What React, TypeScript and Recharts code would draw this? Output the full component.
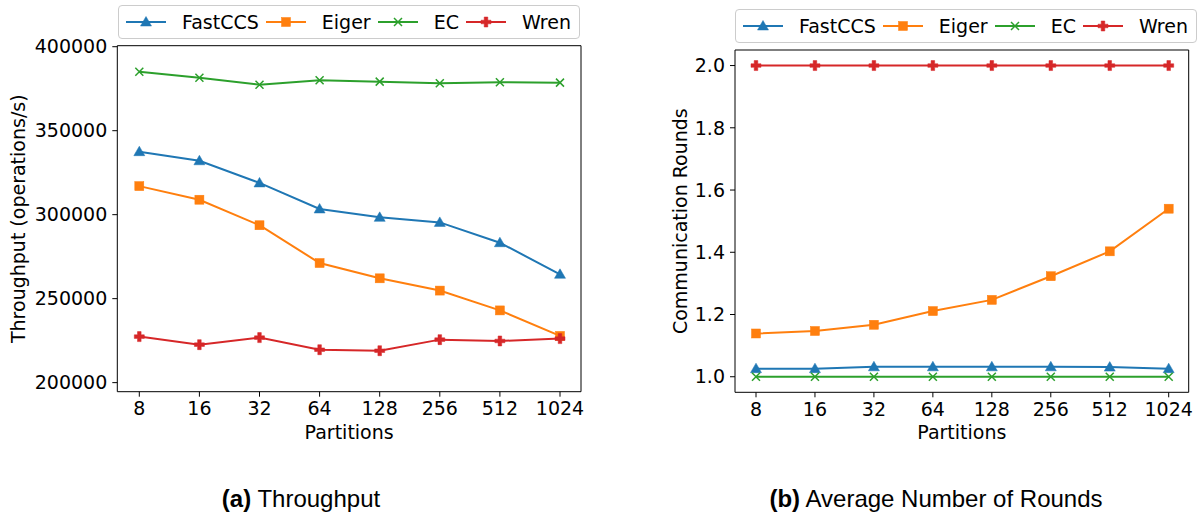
import { LineChart, Line, XAxis, YAxis, Label } from 'recharts';

const partitions = ['8', '16', '32', '64', '128', '256', '512', '1024'];

// throughput (operations/s)
const fastccsTput = [337500, 332100, 318900, 303400, 298400, 295400, 283300, 264500];
const eigerTput = [317000, 308900, 293700, 271200, 262100, 254800, 243000, 227800];
const ecTput = [385100, 381500, 377400, 380000, 379200, 378200, 378800, 378600];
const wrenTput = [227400, 222600, 226800, 219600, 219000, 225600, 224800, 226200];

// average communication rounds
const fastccsRounds = [1.026, 1.026, 1.032, 1.032, 1.032, 1.032, 1.031, 1.026];
const eigerRounds = [1.139, 1.147, 1.167, 1.211, 1.247, 1.323, 1.403, 1.54];
const ecRounds = [1, 1, 1, 1, 1, 1, 1, 1];
const wrenRounds = [2, 2, 2, 2, 2, 2, 2, 2];

const tputTicks = [200000, 250000, 300000, 350000, 400000];
const roundTicks = [1.0, 1.2, 1.4, 1.6, 1.8, 2.0];

const SERIES = [
  { key: 'fastccs', name: 'FastCCS', color: '#1f77b4', marker: 'tri' },
  { key: 'eiger', name: 'Eiger', color: '#ff7f0e', marker: 'sq' },
  { key: 'ec', name: 'EC', color: '#2ca02c', marker: 'x' },
  { key: 'wren', name: 'Wren', color: '#d62728', marker: 'plus' },
];

const FONT = '"DejaVu Sans", sans-serif';
const FS = 19;

function Marker({ type, color, cx, cy }: { type: string; color: string; cx: number; cy: number }) {
  if (type === 'tri') {
    return <path d={`M${cx},${cy - 5.5} L${cx + 5.5},${cy + 4} L${cx - 5.5},${cy + 4} Z`} fill={color} stroke={color} strokeWidth={0.5} />;
  }
  if (type === 'sq') {
    return <rect x={cx - 4.5} y={cy - 4.5} width={9} height={9} fill={color} stroke={color} strokeWidth={0.5} />;
  }
  if (type === 'x') {
    return <path d={`M${cx - 4},${cy - 4} L${cx + 4},${cy + 4} M${cx - 4},${cy + 4} L${cx + 4},${cy - 4}`} stroke={color} strokeWidth={1.5} fill="none" />;
  }
  const a = 5, b = 1.8;
  return (
    <path
      d={`M${cx - b},${cy - a} H${cx + b} V${cy - b} H${cx + a} V${cy + b} H${cx + b} V${cy + a} H${cx - b} V${cy + b} H${cx - a} V${cy - b} H${cx - b} Z`}
      fill={color}
      stroke={color}
      strokeWidth={0.5}
    />
  );
}

function LegendBox({ left, top }: { left: number; top: number }) {
  return (
    <div
      style={{
        position: 'absolute', left, top, height: 32, padding: '0 8px 0 7px',
        border: '1px solid #cccccc', borderRadius: 4, background: 'rgba(255,255,255,0.8)',
        display: 'flex', alignItems: 'center', fontFamily: FONT, fontSize: FS, color: '#000',
        whiteSpace: 'nowrap',
      }}
    >
      {SERIES.map((s, i) => (
        <div key={s.key} style={{ display: 'flex', alignItems: 'center', marginLeft: i === 0 ? 0 : 7 }}>
          <svg width={40} height={14} style={{ display: 'block' }}>
            <line x1={0} y1={7} x2={40} y2={7} stroke={s.color} strokeWidth={2} />
            <Marker type={s.marker} color={s.color} cx={20} cy={7} />
          </svg>
          <span style={{ marginLeft: 16 }}>{s.name}</span>
        </div>
      ))}
    </div>
  );
}

interface PanelProps {
  data: { [key: string]: string | number }[];
  domain: [number, number];
  ticks: number[];
  fmt: (v: number) => string;
  yLabel: string;
  margin: { top: number; right: number; bottom: number; left: number };
  labelX: number;
  pad: { left: number; right: number };
}

function Panel({ data, domain, ticks, fmt, yLabel, margin, labelX, pad }: PanelProps) {
  const W = 600;
  const H = 450;
  const plotTop = margin.top;
  const plotBottom = H - margin.bottom - 50;
  const plotLeft = margin.left + 80;
  const plotRight = W - margin.right;
  const tickStyle = { fontSize: FS, fill: '#000', fontFamily: FONT };
  return (
    <LineChart width={W} height={H} data={data} margin={margin}>
      <XAxis
        dataKey="p"
        height={50}
        padding={pad}
        tick={tickStyle}
        tickSize={5}
        tickMargin={5}
        stroke="#000"
        axisLine={{ stroke: '#000', strokeWidth: 1 }}
        tickLine={{ stroke: '#000', strokeWidth: 1 }}
        interval={0}
      >
        <Label
          content={() => (
            <text x={(plotLeft + plotRight) / 2} y={plotBottom + 47} textAnchor="middle" fontSize={FS} fontFamily={FONT} fill="#000">
              Partitions
            </text>
          )}
        />
      </XAxis>
      <YAxis
        width={80}
        domain={domain}
        ticks={ticks}
        type="number"
        allowDataOverflow
        tickFormatter={fmt}
        tick={tickStyle}
        tickSize={5}
        tickMargin={5}
        axisLine={{ stroke: '#000', strokeWidth: 1 }}
        tickLine={{ stroke: '#000', strokeWidth: 1 }}
        interval={0}
      >
        <Label
          content={() => {
            const cy = (plotTop + plotBottom) / 2;
            return (
              <g>
                {/* top and right spines */}
                <path d={`M${plotLeft},${plotTop} H${plotRight} V${plotBottom}`} stroke="#000" strokeWidth={1} fill="none" />
                <text x={labelX} y={cy} transform={`rotate(-90, ${labelX}, ${cy})`} textAnchor="middle" dominantBaseline="central" fontSize={FS} fontFamily={FONT} fill="#000">
                  {yLabel}
                </text>
              </g>
            );
          }}
        />
      </YAxis>
      {SERIES.map((s) => (
        <Line
          key={s.key}
          dataKey={s.key}
          name={s.name}
          stroke={s.color}
          strokeWidth={2}
          isAnimationActive={false}
          dot={(props: any) => <Marker key={`${s.key}-${props.index}`} type={s.marker} color={s.color} cx={props.cx} cy={props.cy} />}
          activeDot={false}
        />
      ))}
    </LineChart>
  );
}

const tputData = partitions.map((p, i) => ({
  p, fastccs: fastccsTput[i], eiger: eigerTput[i], ec: ecTput[i], wren: wrenTput[i],
}));
const roundData = partitions.map((p, i) => ({
  p, fastccs: fastccsRounds[i], eiger: eigerRounds[i], ec: ecRounds[i], wren: wrenRounds[i],
}));

const captionStyle: React.CSSProperties = {
  position: 'absolute', top: 487, transform: 'translateX(-50%)', fontFamily: '"Liberation Sans", Arial, sans-serif',
  fontSize: 24, lineHeight: '24px', color: '#000', whiteSpace: 'nowrap',
};

export default function App() {
  return (
    <div style={{ position: 'absolute', left: 0, top: 0, width: 1204, height: 516, background: '#fff', overflow: 'hidden' }}>
      <div style={{ position: 'absolute', left: 0, top: 0 }}>
        <Panel
          data={tputData}
          domain={[194600, 400600]}
          ticks={tputTicks}
          fmt={(v) => String(v)}
          yLabel="Throughput (operations/s)"
          margin={{ top: 45.7, right: 19, bottom: 8.3, left: 37.3 }}
          labelX={18}
          pad={{ left: 22, right: 21 }}
        />
      </div>
      <div style={{ position: 'absolute', left: 600, top: 0 }}>
        <Panel
          data={roundData}
          domain={[0.95, 2.05]}
          ticks={roundTicks}
          fmt={(v) => v.toFixed(1)}
          yLabel="Communication Rounds"
          margin={{ top: 50, right: 11.3, bottom: 7.7, left: 55 }}
          labelX={80}
          pad={{ left: 21, right: 20 }}
        />
      </div>
      <LegendBox left={118} top={5} />
      <LegendBox left={735} top={9} />
      <div style={{ ...captionStyle, left: 301 }}>
        <b>(a)</b> Throughput
      </div>
      <div style={{ ...captionStyle, left: 936 }}>
        <b>(b)</b> Average Number of Rounds
      </div>
    </div>
  );
}
